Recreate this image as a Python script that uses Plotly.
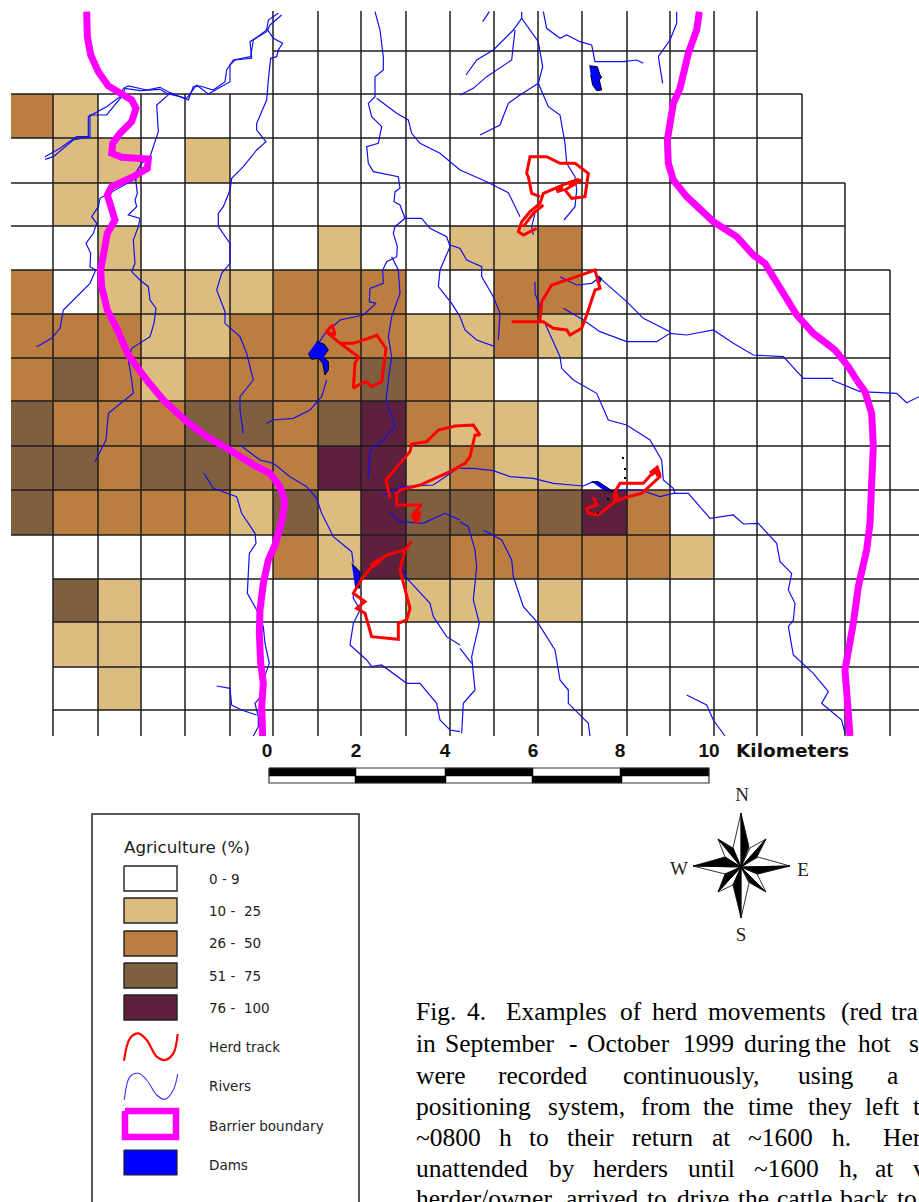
import plotly.graph_objects as go

# ---- map grid (map units are image pixels) ----
COL_EDGES = [11, 53, 98, 141, 185, 230, 273, 318, 361, 406, 450, 494, 538, 582, 627, 670, 714]
ROW_EDGES = [94, 138, 183, 226, 270, 314, 358, 401, 446, 490, 535, 579, 622, 667, 710]
_ = None
AGRI_CLASS = [
    [2, 1, 0, 0, 0, 0, 0, 0, 0, 0, 0, 0, 0, 0, 0, 0],
    [0, 1, 1, 0, 1, 0, 0, 0, 0, 0, 0, 0, 0, 0, 0, 0],
    [0, 1, 0, 0, 0, 0, 0, 0, 0, 0, 0, 0, 0, 0, 0, 0],
    [0, 0, 1, 0, 0, 0, 0, 1, 0, 0, 1, 1, 2, 0, 0, 0],
    [2, 0, 1, 1, 1, 1, 2, 2, 2, 0, 0, 2, 2, 0, 0, 0],
    [2, 2, 2, 1, 1, 2, 2, 2, 2, 1, 1, 2, 1, 0, 0, 0],
    [2, 3, 2, 1, 2, 2, 2, 2, 3, 2, 1, 0, 0, 0, 0, 0],
    [3, 2, 2, 2, 3, 3, 2, 3, 4, 2, 1, 1, 0, 0, 0, 0],
    [3, 3, 2, 3, 3, 2, 2, 4, 4, 1, 2, 1, 1, 0, 0, 0],
    [3, 2, 2, 2, 2, 1, 3, 1, 4, 3, 3, 2, 3, 4, 2, 0],
    [_, 0, 0, 0, 0, 0, 2, 1, 4, 3, 2, 2, 2, 2, 2, 1],
    [_, 3, 1, 0, 0, 0, 0, 0, 0, 1, 1, 0, 1, 0, 0, 0],
    [_, 1, 1, 0, 0, 0, 0, 0, 0, 0, 0, 0, 0, 0, 0, 0],
    [_, 0, 1, 0, 0, 0, 0, 0, 0, 0, 0, 0, 0, 0, 0, 0],
]
CLASS_COLORS = ["#FFFFFF", "#DDBD7F", "#BB7E40", "#7F5F40", "#5D203D"]

GRID_H = [(51, 273, 757), (94, 11, 802), (138, 11, 802), (183, 11, 845), (226, 11, 845),
          (270, 11, 890), (314, 11, 890), (358, 11, 890), (401, 11, 890), (446, 11, 890),
          (490, 11, 919), (535, 11, 919), (579, 53, 919), (622, 53, 919), (667, 53, 919), (710, 53, 919)]
GRID_V = [(53, 94, 736), (98, 94, 736), (141, 94, 736), (185, 94, 736), (230, 94, 736),
          (273, 11, 736), (318, 11, 736), (361, 11, 736), (406, 11, 736), (450, 11, 736),
          (494, 11, 736), (538, 11, 736), (582, 11, 736), (627, 11, 736), (670, 11, 736),
          (714, 11, 736), (757, 11, 736), (802, 94, 736), (845, 183, 736), (890, 270, 736)]

# traced lines: (origin x, origin y, points at 3x trace scale)
BARRIER = [
    (0, 0, [(260,35),(262,110),(272,165),(295,215),(325,258),(360,280),(395,300),(408,325),(395,365),(360,400),(338,430),(335,460),(365,472),(445,477),(442,505),(400,530),(335,560),(322,585),(345,660),(322,700),(312,760),(302,810),(305,860),(322,930),(350,985),(385,1065),(440,1140)]),
    (0, 380, [(440,0),(490,60),(560,125),(620,170),(690,210),(760,255),(810,280),(840,320),(855,365),(845,425),(825,495),(805,540),(790,610),(780,690),(778,760),(782,850),(790,910),(785,980),(788,1068)]),
    (460, 0, [(718,35),(710,90),(685,160),(672,220),(660,265),(640,310),(630,370),(622,420),(625,490),(640,540),(680,590),(760,665),(830,710),(880,765),(915,790),(965,870),(1010,945),(1060,1000),(1125,1050),(1165,1100),(1190,1140)]),
    (460, 380, [(1190,0),(1215,35),(1235,100),(1240,200),(1235,310),(1230,430),(1220,510),(1195,620),(1180,730),(1165,820),(1155,870),(1162,960),(1170,1068)]),
]

RIVERS = [
    (0, 0, [(835,40),(805,60),(800,90),(760,120),(752,170),(700,180),(680,210),(675,245),(640,270),(600,258),(580,260),(565,300),(510,278),(480,262),(440,270),(385,258),(370,265),(360,290),(320,320),(265,350),(265,410),(230,410),(180,445),(135,470)]),
    (0, 0, [(845,45),(810,75),(800,95),(750,125),(755,175),(705,180),(690,195),(690,245),(650,268),(625,282),(590,255),(575,275),(560,295),(500,280),(480,268),(420,272),(375,265),(365,290),(320,345),(270,345),(270,410),(220,420),(160,470),(135,478)]),
    (0, 0, [(800,85),(820,115),(848,130),(835,150),(830,170),(812,175),(805,240),(800,300),(770,370),(770,390),(798,425),(770,450),(730,500),(695,535),(690,570),(670,620),(655,640),(655,680),(690,730),(690,790),(665,820),(650,870),(675,935),(675,970),(720,1010),(740,1060),(760,1140)]),
    (0, 380, [(760,0),(720,50),(720,90),(730,160)]),
    (0, 0, [(510,280),(470,315),(475,395),(450,470),(425,490),(405,520),(412,580),(405,600),(410,620),(385,645),(420,655),(415,680),(400,720),(405,790),(395,815),(420,840),(445,860),(450,900),(468,925),(462,970),(450,1010),(395,1045),(385,1080),(395,1140)]),
    (0, 380, [(395,0),(400,40),(325,100),(318,180),(285,245)]),
    (0, 0, [(410,535),(300,595),(295,620),(275,650),(290,670),(280,700),(258,730),(272,760),(270,800),(287,810),(270,850),(190,930),(180,985),(155,1015),(110,1040)]),
    (0, 0, [(1125,35),(1140,90),(1150,170),(1150,210),(1125,230),(1125,290),(1105,310),(1115,350),(1145,380),(1135,430),(1100,440),(1105,490),(1120,515),(1195,530),(1200,565),(1185,575),(1182,605),(1200,615),(1215,655),(1265,655),(1290,685),(1340,710),(1350,740),(1320,810),(1315,860),(1355,910),(1380,950)]),
    (0, 0, [(1215,655),(1185,680),(1180,700),(1192,740),(1190,770),(1160,785),(1148,810),(1150,850),(1110,865),(1108,905),(1128,910),(1090,945),(1020,960),(975,1000),(955,1030)]),
    (0, 0, [(1175,770),(1195,810),(1200,880),(1175,950),(1165,1010),(1175,1070),(1165,1140)]),
    (0, 380, [(1165,0),(1158,60),(1185,140),(1150,180),(1110,210),(1105,295)]),
    (0, 0, [(1130,295),(1190,340),(1225,360),(1235,400),(1260,430),(1320,460),(1380,510)]),
    (460, 0, [(0,510),(80,545),(145,578),(180,650)]),
    (460, 0, [(225,640),(215,680),(220,705)]),
    (0, 0, [(1350,735),(1380,745)]),
    (460, 0, [(0,745),(20,780),(65,800),(65,830),(100,890),(120,940),(115,1020)]),
    (460, 0, [(0,950),(15,990),(50,1020),(105,1040)]),
    (0, 380, [(980,0),(965,50),(930,90),(880,115),(820,120),(800,130)]),
    (0, 380, [(720,195),(780,240),(820,250),(870,290),(920,320),(950,355),(965,400),(1000,470),(1055,515),(1060,550)]),
    (0, 380, [(612,280),(640,325),(710,350),(725,400),(765,460),(768,490),(748,520),(742,640),(770,690),(790,740),(795,790),(808,850),(790,900),(790,940),(765,970),(775,1010),(775,1040),(760,1068)]),
    (0, 380, [(650,918),(690,925),(695,975),(725,990),(770,1005)]),
    (0, 380, [(1060,640),(1060,655),(1080,690),(1060,730),(1050,795),(1100,840),(1115,860),(1145,855),(1220,910),(1260,910),(1310,970),(1320,1020),(1350,1050),(1380,1055)]),
    (0, 380, [(1205,565),(1225,600),(1290,670),(1300,710),(1340,770),(1380,795)]),
    (460, 380, [(0,805),(35,850)]),
    (0, 380, [(1148,345),(1205,320),(1300,315),(1380,260)]),
    (460, 380, [(0,265),(40,265),(100,272),(150,290),(220,295),(280,310),(370,318),(400,305)]),
    (460, 380, [(460,330),(540,330),(600,350),(640,340),(685,340),(750,415),(820,405),(850,432),(895,430),(950,490),(960,545),(995,580),(985,630),(1005,670),(1000,720),(985,740),(1000,825),(1060,880),(1105,935),(1085,970),(1145,1020),(1155,1060)]),
    (0, 380, [(1168,395),(1200,425),(1270,430),(1335,400),(1380,420)]),
    (460, 380, [(0,425),(25,440),(45,510),(50,560),(40,660),(58,730),(35,830),(45,930),(10,970),(5,1060)]),
    (460, 380, [(70,450),(125,480),(155,540),(160,590),(190,680),(235,730),(285,810),(300,900),(325,930),(325,970),(385,1030),(390,1068)]),
    (460, 380, [(340,0),(410,40),(445,120),(500,135),(570,180),(605,240),(610,300),(640,325),(645,340)]),
    (460, 0, [(225,845),(225,880),(240,920),(240,960),(255,970),(300,1070),(305,1105),(340,1140)]),
    (460, 0, [(310,925),(370,960),(420,995),(500,1025),(590,1025),(630,1000),(680,1005),(760,990),(820,1030),(880,1065),(970,1070),(1030,1135),(1120,1135)]),
    (460, 380, [(1115,0),(1200,35),(1310,40),(1340,68),(1377,50)]),
    (460, 0, [(415,830),(500,905),(550,955),(630,995)]),
    (460, 0, [(300,830),(350,855),(395,850),(415,835)]),
    (460, 0, [(250,35),(260,85),(300,115),(320,105),(360,125),(395,135),(405,185),(490,185),(530,180),(550,190)]),
    (460, 0, [(185,35),(185,55),(235,125),(248,200),(235,250),(265,320),(300,345),(315,430),(320,490),(345,530),(350,570),(345,620),(312,660)]),
    (460, 0, [(185,55),(160,90),(100,150),(50,180),(18,225)]),
    (460, 0, [(165,90),(155,180),(80,230),(40,265),(0,285)]),
    (460, 0, [(235,250),(180,285),(145,310),(120,375),(60,405)]),
    (460, 0, [(650,35),(650,70),(630,120),(595,170),(608,250)]),
    (460, 0, [(88,35),(68,65)]),
    (460, 380, [(680,945),(740,975),(760,1020),(795,1068)]),
]

TRACKS = [
    (300, 320, [(78,35),(97,15),(105,45),(78,35),(120,70),(160,70),(220,50),(230,45),(258,85),(245,185),(215,200),(200,185),(175,195),(160,205),(165,130),(175,110),(120,70)]),
    (300, 320, [(270,535),(258,480),(330,395),(335,372),(380,365),(415,330),(465,318),(520,315),(540,345),(525,345),(510,410),(495,430),(450,455),(360,495),(300,510),(290,520),(290,555),(365,555),(345,575),(350,610),(360,575),(335,590)]),
    (0, 380, [(1235,485),(1215,510),(1160,525),(1115,560),(1080,605),(1060,640),(1095,665),(1070,685),(1095,700),(1115,770),(1195,778),(1195,730),(1220,720),(1230,685),(1200,570),(1215,510)]),
    (460, 0, [(240,590),(215,580),(205,530),(200,520),(210,470),(260,470),(300,490),(345,490),(385,520),(375,590),(335,595),(315,570),(365,540),(320,550),(250,580),(240,610),(210,635),(185,665),(175,695),(190,705),(230,685)]),
    (460, 0, [(250,615),(220,640),(190,680)]),
    (460, 0, [(155,965),(250,965),(280,985),(320,990),(330,1005),(365,985),(380,945),(400,890),(405,870),(420,865),(405,810),(335,835),(275,855),(245,905),(240,960)]),
    (460, 380, [(400,352),(410,375),(380,385),(385,400),(415,405),(465,365),(505,350),(545,340),(600,290),(590,265),(550,310),(480,310),(465,335),(470,365)]),
]
TRACK_BLOBS = [
    (460, 0, [(325,552),(358,541)]),
    (460, 0, [(288,572),(310,565)]),
    (460, 380, [(572,282),(590,268),(597,288)]),
    (300, 320, [(340,578),(350,605)]),
    (0, 380, [(1140,540),(1115,558)]),
    (460, 380, [(465,340),(470,365)]),
]

DAMS = [
    (300, 320, [(50,65),(72,72),(85,90),(70,110),(85,125),(85,150),(75,165),(68,130),(55,115),(35,118),(25,100)]),
    (460, 0, [(388,197),(412,200),(420,225),(425,232),(418,240),(425,270),(410,272),(398,255),(392,225)]),
    (0, 380, [(1055,550),(1080,575),(1078,625),(1065,620)]),
    (460, 380, [(395,305),(415,305),(460,335),(430,330)]),
    (460, 0, [(410,825),(425,835),(418,850),(410,845)]),
]
BLACK_DOTS_X = [623, 625, 625, 608, 598]
BLACK_DOTS_Y = [458, 469, 478, 499, 513]

# legend
LEGEND_TITLE = "Agriculture (%)"
LEGEND_LABELS = ["0 - 9", "10 -  25", "26 -  50", "51 -  75", "76 -  100"]
LEGEND_TOPS = [866, 898, 931, 963, 995]
LEGEND_OTHER = ["Herd track", "Rivers", "Barrier boundary", "Dams"]
LEGEND_OTHER_Y = [1049, 1088, 1128, 1167]
RED_SAMPLE = [(132,782),(150,715),(175,700),(200,720),(230,770),(255,780),(280,760),(293,702)]
BLUE_SAMPLE = [(133,900),(150,830),(175,820),(200,840),(230,885),(255,898),(280,870),(293,822)]

# scale bar
SCALE_LABELS = ["0", "2", "4", "6", "8", "10"]
SCALE_LABEL_X = [267, 356, 445, 533, 620, 709]
SCALE_TOP = [269, 356, 445, 533, 620, 709]
SCALE_BOT = [269, 355, 446, 532, 622, 709]

# compass: tip, clockwise shoulder, counter-clockwise shoulder
COMPASS_C = (741, 867)
COMPASS = [
    ((766,839),(757,857),(750,848)), ((766,892),(750,883),(757,874)),
    ((718,892),(725,874),(733,885)), ((718,839),(733,848),(725,857)),
    ((741,813),(749,847),(733,848)), ((790,866),(758,874),(758,857)),
    ((741,918),(733,885),(749,883)), ((693,866),(725,857),(725,874)),
]
COMPASS_LETTERS = ["N", "W", "E", "S"]
COMPASS_LX = [742, 679, 803, 741]
COMPASS_LY = [796, 870, 871, 936]

# caption: one row per printed line (y, [(x, word), ...])
CAPTION = [
    (1014, [(416,"Fig."),(467,"4."),(506,"Examples"),(620,"of"),(652,"herd"),(708,"movements"),(841,"(red"),(891,"tra")]),
    (1046, [(416,"in"),(445,"September"),(569,"-"),(587,"October"),(683,"1999"),(744,"during"),(815,"the"),(858,"hot"),(909,"s")]),
    (1078, [(416,"were"),(498,"recorded"),(623,"continuously,"),(798,"using"),(887,"a")]),
    (1109, [(416,"positioning"),(548,"system,"),(641,"from"),(703,"the"),(748,"time"),(808,"they"),(865,"left"),(913,"t")]),
    (1140, [(416,"~0800"),(499,"h"),(529,"to"),(567,"their"),(632,"return"),(712,"at"),(748,"~1600"),(832,"h."),(883,"Her")]),
    (1171, [(416,"unattended"),(549,"by"),(593,"herders"),(688,"until"),(754,"~1600"),(839,"h,"),(875,"at"),(913,"v")]),
    (1201, [(416,"herder/owner"),(566,"arrived"),(647,"to"),(677,"drive"),(738,"the"),(777,"cattle"),(840,"back"),(897,"to")]),
]

def unpack(o):
    ox, oy, pts = o
    return [ox + p[0] / 3 for p in pts], [oy + p[1] / 3 for p in pts]

def multi(items):
    xs, ys = [], []
    for it in items:
        x, y = unpack(it)
        xs += x + [None]
        ys += y + [None]
    return xs, ys

fig = go.Figure()
cs = []
n = len(CLASS_COLORS)
for i, c in enumerate(CLASS_COLORS):
    cs += [[i / n, c], [(i + 1) / n, c]]
fig.add_heatmap(x=COL_EDGES, y=ROW_EDGES, z=AGRI_CLASS, zmin=0, zmax=5, colorscale=cs,
                showscale=False, hoverinfo="skip")

gx, gy = [], []
for y, a, b in GRID_H:
    gx += [a, b, None]; gy += [y, y, None]
for x, a, b in GRID_V:
    gx += [x, x, None]; gy += [a, b, None]
fig.add_scatter(x=gx, y=gy, mode="lines", line=dict(color="#1c1c1c", width=1.5), hoverinfo="skip")

x, y = multi(RIVERS)
fig.add_scatter(x=x, y=y, mode="lines", line=dict(color="#1010f0", width=1.2), hoverinfo="skip")
x, y = multi(DAMS)
fig.add_scatter(x=x, y=y, mode="lines", fill="toself", fillcolor="#0000FF",
                line=dict(color="#000018", width=1), hoverinfo="skip")
x, y = multi(BARRIER)
fig.add_scatter(x=x, y=y, mode="lines", line=dict(color="#FF00FF", width=7), hoverinfo="skip")
x, y = multi(TRACKS)
fig.add_scatter(x=x, y=y, mode="lines", line=dict(color="#FF0000", width=3), hoverinfo="skip")
x, y = multi(TRACK_BLOBS)
fig.add_scatter(x=x, y=y, mode="lines", line=dict(color="#FF0000", width=5.5), hoverinfo="skip")
fig.add_scatter(x=BLACK_DOTS_X, y=BLACK_DOTS_Y, mode="markers",
                marker=dict(color="black", size=2, symbol="square"), hoverinfo="skip")

# scale bar
def rects(edges, y0, y1, start):
    xs, ys = [], []
    for i in range(len(edges) - 1):
        if (i + start) % 2 == 0:
            xs += [edges[i], edges[i + 1], edges[i + 1], edges[i], edges[i], None]
            ys += [y0, y0, y1, y1, y0, None]
    return xs, ys
xa, ya = rects(SCALE_TOP, 768, 776, 0)
xb, yb = rects(SCALE_BOT, 776, 783, 1)
fig.add_scatter(x=xa + xb, y=ya + yb, mode="lines", fill="toself", fillcolor="black",
                line=dict(color="black", width=0.5), hoverinfo="skip")
bx = [SCALE_TOP[0], SCALE_TOP[-1], SCALE_TOP[-1], SCALE_TOP[0], SCALE_TOP[0]]
fig.add_scatter(x=bx, y=[768, 768, 783, 783, 768], mode="lines", line=dict(color="#333", width=1.2), hoverinfo="skip")
fig.add_scatter(x=SCALE_LABEL_X, y=[752] * len(SCALE_LABELS), text=["<b>%s</b>" % s for s in SCALE_LABELS], mode="text",
                textposition="middle center", textfont=dict(family="Liberation Sans", size=19, color="#111"),
                cliponaxis=False, hoverinfo="skip")
fig.add_scatter(x=[736], y=[752], text=["<b>Kilometers</b>"], mode="text", textposition="middle right",
                textfont=dict(family="DejaVu Sans", size=18.5, color="#111"), cliponaxis=False, hoverinfo="skip")

# legend box and swatches
fig.add_scatter(x=[92, 92, 359, 359], y=[1215, 814, 814, 1215], mode="lines",
                line=dict(color="#222", width=1.5), hoverinfo="skip")
for top, col in zip(LEGEND_TOPS, CLASS_COLORS):
    fig.add_scatter(x=[124, 177, 177, 124, 124], y=[top, top, top + 25, top + 25, top], mode="lines",
                    fill="toself", fillcolor=col, line=dict(color="#222", width=1.4), hoverinfo="skip")
fig.add_scatter(x=[125, 176, 176, 125, 125], y=[1111, 1111, 1137, 1137, 1111], mode="lines",
                line=dict(color="#FF00FF", width=6.5), hoverinfo="skip")
fig.add_scatter(x=[124, 177, 177, 124, 124], y=[1150, 1150, 1175, 1175, 1150], mode="lines",
                fill="toself", fillcolor="#0000FF", line=dict(color="#222", width=1.2), hoverinfo="skip")
x, y = unpack((80, 800, RED_SAMPLE))
fig.add_scatter(x=x, y=y, mode="lines", line=dict(color="#FF0000", width=2.2, shape="spline"), hoverinfo="skip")
x, y = unpack((80, 800, BLUE_SAMPLE))
fig.add_scatter(x=x, y=y, mode="lines", line=dict(color="#3030FF", width=1.1, shape="spline"), hoverinfo="skip")
leg_font = dict(family="DejaVu Sans", size=13.5, color="#222")
fig.add_scatter(x=[124], y=[849], text=[LEGEND_TITLE], mode="text", textposition="middle right",
                textfont=dict(family="DejaVu Sans", size=16.7, color="#222"), hoverinfo="skip")
fig.add_scatter(x=[209] * 5, y=[881, 913, 945, 978, 1010], text=LEGEND_LABELS, mode="text",
                textposition="middle right", textfont=leg_font, hoverinfo="skip")
fig.add_scatter(x=[209] * 4, y=LEGEND_OTHER_Y, text=LEGEND_OTHER, mode="text",
                textposition="middle right", textfont=leg_font, hoverinfo="skip")

# compass
bxs, bys, wxs, wys = [], [], [], []
for tip, cw, ccw in COMPASS:
    bxs += [tip[0], cw[0], COMPASS_C[0], tip[0], None]
    bys += [tip[1], cw[1], COMPASS_C[1], tip[1], None]
    wxs += [tip[0], ccw[0], COMPASS_C[0], tip[0], None]
    wys += [tip[1], ccw[1], COMPASS_C[1], tip[1], None]
fig.add_scatter(x=wxs, y=wys, mode="lines", fill="toself", fillcolor="white",
                line=dict(color="black", width=0.8), hoverinfo="skip")
fig.add_scatter(x=bxs, y=bys, mode="lines", fill="toself", fillcolor="black",
                line=dict(color="black", width=0.8), hoverinfo="skip")
fig.add_scatter(x=COMPASS_LX, y=COMPASS_LY, text=COMPASS_LETTERS, mode="text", textposition="middle center",
                textfont=dict(family="Liberation Serif", size=19, color="#222"), hoverinfo="skip")

# caption
for yy, words in CAPTION:
    fig.add_scatter(x=[w[0] for w in words], y=[yy] * len(words), text=[w[1] for w in words], mode="text",
                    textposition="middle right", cliponaxis=False,
                    textfont=dict(family="Liberation Serif", size=25.5, color="black"), hoverinfo="skip")

fig.update_layout(width=919, height=1202, margin=dict(l=0, r=0, t=0, b=0), showlegend=False,
                  paper_bgcolor="white", plot_bgcolor="white",
                  xaxis=dict(range=[0, 919], visible=False, fixedrange=True),
                  yaxis=dict(range=[1202, 0], visible=False, fixedrange=True))
fig.write_html("out.html", config={"displayModeBar": False},
               post_script="document.body.style.margin='0';document.body.style.overflow='hidden';")
